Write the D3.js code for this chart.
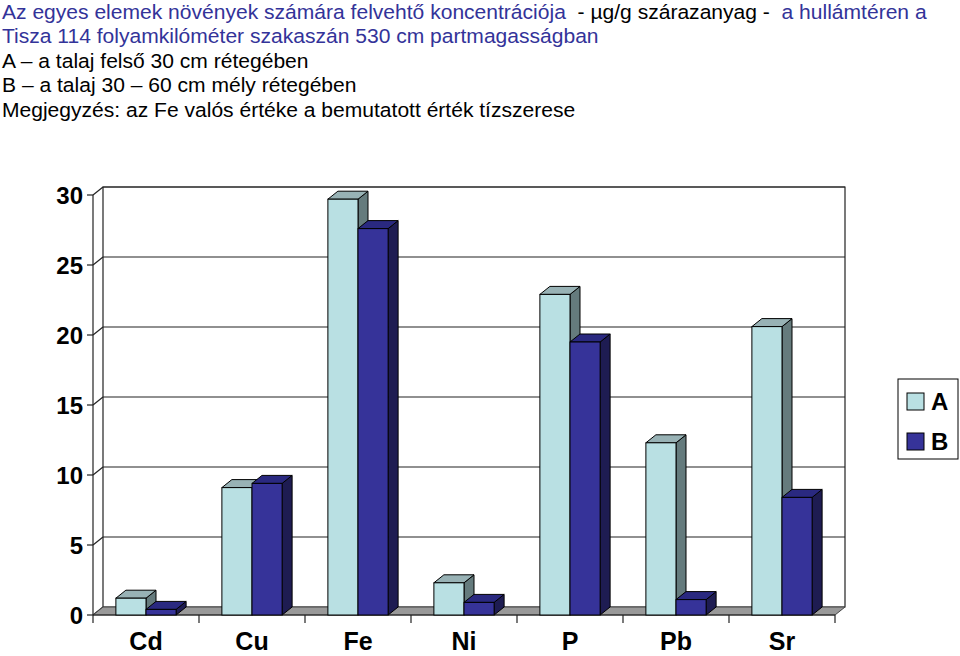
<!DOCTYPE html>
<html>
<head>
<meta charset="utf-8">
<script src="https://cdn.jsdelivr.net/npm/d3@7"></script>
<style>
  body { margin: 0; background: #fff; }
  text { font-family: Arial, "Liberation Sans", sans-serif; white-space: pre; }
</style>
</head>
<body>
<svg id="chart" width="960" height="656"></svg>
<script>
// data
const elements = ['Cd', 'Cu', 'Fe', 'Ni', 'P', 'Pb', 'Sr'];
const seriesA = [1.2, 9.1, 29.7, 2.3, 22.9, 12.3, 20.6];
const seriesB = [0.4, 9.4, 27.6, 0.9, 19.5, 1.1, 8.4];
const seriesNames = ['A', 'B'];
const yTicks = [0, 5, 10, 15, 20, 25, 30];

const svg = d3.select('#chart');

// header lines (text in the source is a bit wider than Arial, so stretch it)
const blue = '#333399';
const head = svg.append('g').attr('transform', 'translate(2,0) scale(1.08,1)');
const t1 = head.append('text').attr('x', 0).attr('y', 19).style('font-size', '19.5px');
t1.append('tspan').attr('fill', blue).text('Az egyes elemek növények számára felvehtő koncentrációja ');
t1.append('tspan').attr('fill', '#000').text(' - µg/g szárazanyag - ');
t1.append('tspan').attr('fill', blue).text(' a hullámtéren a');

const headLines = [
  { t: 'Tisza 114 folyamkilóméter szakaszán 530 cm partmagasságban', c: blue },
  { t: 'A – a talaj felső 30 cm rétegében', c: '#000' },
  { t: 'B – a talaj 30 – 60 cm mély rétegében', c: '#000' },
  { t: 'Megjegyzés: az Fe valós értéke a bemutatott érték tízszerese', c: '#000' }
];
head.selectAll('.head').data(headLines).enter().append('text')
  .attr('class', 'head')
  .attr('x', 0)
  .attr('y', (d, i) => 43.5 + i * 24.5)
  .attr('fill', d => d.c)
  .style('font-size', '19.5px')
  .text(d => d.t);

// 3d geometry
const dx = 10, dy = -8;
const x = d3.scaleBand().domain(elements).range([93, 835]);
const y = d3.scaleLinear().domain([0, 30]).range([615, 195]);
const y0 = y(0), yTop = y(30);
const xL = x.range()[0], xR = x.range()[1];

const pts = a => a.map(p => p.join(',')).join(' ');

// back wall
svg.append('polygon')
  .attr('points', pts([[xL + dx, y0 + dy], [xR + dx, y0 + dy], [xR + dx, yTop + dy], [xL + dx, yTop + dy]]))
  .attr('fill', '#fff').attr('stroke', '#222').attr('stroke-width', 1.2);

// gridlines on back wall + side wall
svg.selectAll('.grid').data(yTicks.slice(1)).enter().append('line')
  .attr('x1', xL + dx).attr('x2', xR + dx)
  .attr('y1', d => y(d) + dy).attr('y2', d => y(d) + dy)
  .attr('stroke', '#222').attr('stroke-width', 1.2);
svg.selectAll('.sgrid').data(yTicks).enter().append('line')
  .attr('x1', xL).attr('x2', xL + dx)
  .attr('y1', d => y(d)).attr('y2', d => y(d) + dy)
  .attr('stroke', '#222').attr('stroke-width', 1.2);

// floor
svg.append('polygon')
  .attr('points', pts([[xL, y0], [xR, y0], [xR + dx, y0 + dy], [xL + dx, y0 + dy]]))
  .attr('fill', '#999').attr('stroke', '#444').attr('stroke-width', 1);

// y axis
svg.append('line').attr('x1', xL).attr('x2', xL).attr('y1', y0).attr('y2', yTop)
  .attr('stroke', '#222').attr('stroke-width', 1.2);
svg.selectAll('.ytick').data(yTicks).enter().append('line')
  .attr('x1', xL - 6).attr('x2', xL).attr('y1', d => y(d)).attr('y2', d => y(d))
  .attr('stroke', '#222').attr('stroke-width', 1.2);
svg.selectAll('.ylab').data(yTicks).enter().append('text')
  .attr('x', 83).attr('y', d => y(d) + 8.5)
  .attr('text-anchor', 'end')
  .style('font-size', '24px').style('font-weight', 'bold')
  .text(d => d);

// x axis
svg.append('line').attr('x1', xL).attr('x2', xR).attr('y1', y0).attr('y2', y0)
  .attr('stroke', '#222').attr('stroke-width', 1.2);
const bounds = elements.map(e => x(e)).concat([xR]);
svg.selectAll('.xtick').data(bounds).enter().append('line')
  .attr('x1', d => d).attr('x2', d => d).attr('y1', y0).attr('y2', y0 + 8)
  .attr('stroke', '#222').attr('stroke-width', 1.2);
svg.selectAll('.xlab').data(elements).enter().append('text')
  .attr('x', d => x(d) + x.bandwidth() / 2).attr('y', 650)
  .attr('text-anchor', 'middle')
  .style('font-size', '25px').style('font-weight', 'bold')
  .text(d => d);

// bars
const colors = {
  A: { front: '#b9e0e3', top: '#98b2b5', side: '#657b7d' },
  B: { front: '#363399', top: '#2a2980', side: '#1e1c52' }
};
const inner = d3.scaleBand().domain(seriesNames).range([0, x.bandwidth()]).paddingOuter(0.76).paddingInner(0);

const bars = [];
elements.forEach((e, i) => {
  bars.push({ e: e, s: 'A', v: seriesA[i] });
  bars.push({ e: e, s: 'B', v: seriesB[i] });
});

const g = svg.selectAll('.bar').data(bars).enter().append('g').attr('class', 'bar');
const bx0 = d => x(d.e) + inner(d.s);
const bx1 = d => bx0(d) + inner.bandwidth();
g.append('polygon')
  .attr('points', d => pts([[bx1(d), y0], [bx1(d) + dx, y0 + dy], [bx1(d) + dx, y(d.v) + dy], [bx1(d), y(d.v)]]))
  .attr('fill', d => colors[d.s].side).attr('stroke', '#000').attr('stroke-width', 1);
g.append('polygon')
  .attr('points', d => pts([[bx0(d), y(d.v)], [bx1(d), y(d.v)], [bx1(d) + dx, y(d.v) + dy], [bx0(d) + dx, y(d.v) + dy]]))
  .attr('fill', d => colors[d.s].top).attr('stroke', '#000').attr('stroke-width', 1);
g.append('rect')
  .attr('x', bx0).attr('y', d => y(d.v))
  .attr('width', inner.bandwidth()).attr('height', d => y0 - y(d.v))
  .attr('fill', d => colors[d.s].front).attr('stroke', '#000').attr('stroke-width', 1);

// legend
const leg = svg.append('g').attr('transform', 'translate(898,379)');
leg.append('rect').attr('width', 60).attr('height', 80)
  .attr('fill', '#fff').attr('stroke', '#000').attr('stroke-width', 1);
seriesNames.forEach((s, i) => {
  leg.append('rect').attr('x', 9).attr('y', 14 + i * 40).attr('width', 17).attr('height', 17)
    .attr('fill', colors[s].front).attr('stroke', '#000').attr('stroke-width', 1);
  leg.append('text').attr('x', 33).attr('y', 31 + i * 40)
    .style('font-size', '24px').style('font-weight', 'bold')
    .text(s);
});
</script>
</body>
</html>
